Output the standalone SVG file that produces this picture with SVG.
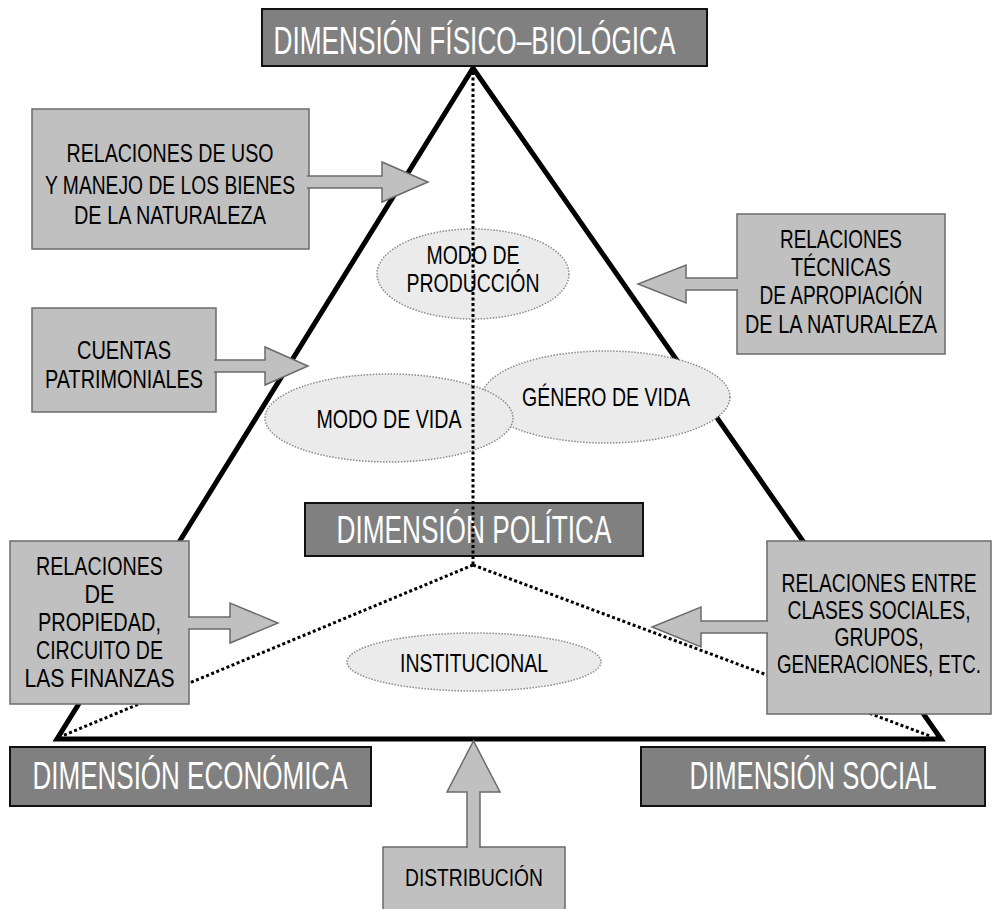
<svg xmlns="http://www.w3.org/2000/svg" width="993" height="909" viewBox="0 0 993 909">
<style>
.t{font-family:"Liberation Sans",Arial,sans-serif;text-anchor:middle;fill:#000;font-size:26px}
.dt{font-family:"Liberation Sans",Arial,sans-serif;text-anchor:middle;fill:#fff;font-size:38px}
.box{fill:#c0c0c0;stroke:#6b6b6b;stroke-width:1.5}
.dark{fill:#808080;stroke:#111;stroke-width:2}
.ell{fill:#ebebeb;stroke:#8a8a8a;stroke-width:1.5;stroke-dasharray:1.5 1.5}
.frame{fill:none;stroke:#000;stroke-width:5;stroke-linejoin:miter}
.dot{fill:none;stroke:#000;stroke-width:3;stroke-dasharray:3 2.5}
.arr{fill:#c0c0c0;stroke:#6b6b6b;stroke-width:1.5;stroke-linejoin:miter}
</style>
<rect width="993" height="909" fill="#fff"/>
<g id="pyramid"><polygon class="frame" points="473,68 57,739 941,739"/></g>

<g id="modo-produccion">
<ellipse class="ell" cx="473" cy="274" rx="96" ry="45"/>
<text class="t" x="473" y="264" textLength="93" lengthAdjust="spacingAndGlyphs">MODO DE</text>
<text class="t" x="473" y="292" textLength="133" lengthAdjust="spacingAndGlyphs">PRODUCCIÓN</text>
</g>
<g id="genero-vida">
<ellipse class="ell" cx="606" cy="397" rx="124" ry="46"/>
<text class="t" x="606" y="406" textLength="168" lengthAdjust="spacingAndGlyphs">GÉNERO DE VIDA</text>
</g>
<g id="modo-vida">
<ellipse class="ell" cx="389" cy="418" rx="124" ry="44"/>
<text class="t" x="389" y="428" textLength="145" lengthAdjust="spacingAndGlyphs">MODO DE VIDA</text>
</g>
<g id="institucional">
<ellipse class="ell" cx="474" cy="662" rx="127" ry="29"/>
<text class="t" x="474" y="672" textLength="148" lengthAdjust="spacingAndGlyphs">INSTITUCIONAL</text>
</g>

<g id="dim-politica">
<rect class="dark" x="305" y="503" width="338" height="53"/>
<text class="dt" x="474" y="543" textLength="275" lengthAdjust="spacingAndGlyphs">DIMENSIÓN POLÍTICA</text>
</g>

<g id="connectors">
<polyline class="dot" points="473,72 473,565"/>
<polyline class="dot" points="473,565 62,736"/>
<polyline class="dot" points="473,565 930,736"/>
</g>

<g id="uso-manejo">
<rect class="box" x="32" y="109" width="277" height="140"/>
<text class="t" x="170" y="162" textLength="207" lengthAdjust="spacingAndGlyphs">RELACIONES DE USO</text>
<text class="t" x="170" y="194" textLength="250" lengthAdjust="spacingAndGlyphs">Y MANEJO DE LOS BIENES</text>
<text class="t" x="170" y="224" textLength="192" lengthAdjust="spacingAndGlyphs">DE LA NATURALEZA</text>
</g>
<g id="tecnicas">
<rect class="box" x="737" y="214" width="208" height="140"/>
<text class="t" x="841" y="248" textLength="122" lengthAdjust="spacingAndGlyphs">RELACIONES</text>
<text class="t" x="841" y="276" textLength="100" lengthAdjust="spacingAndGlyphs">TÉCNICAS</text>
<text class="t" x="841" y="304" textLength="163" lengthAdjust="spacingAndGlyphs">DE APROPIACIÓN</text>
<text class="t" x="841" y="333" textLength="192" lengthAdjust="spacingAndGlyphs">DE LA NATURALEZA</text>
</g>
<g id="cuentas">
<rect class="box" x="32" y="308" width="184" height="104"/>
<text class="t" x="124" y="359" textLength="94" lengthAdjust="spacingAndGlyphs">CUENTAS</text>
<text class="t" x="124" y="388" textLength="158" lengthAdjust="spacingAndGlyphs">PATRIMONIALES</text>
</g>
<g id="propiedad">
<rect class="box" x="10" y="541" width="179" height="163"/>
<text class="t" x="99.5" y="575" textLength="127" lengthAdjust="spacingAndGlyphs">RELACIONES</text>
<text class="t" x="99.5" y="603" textLength="30" lengthAdjust="spacingAndGlyphs">DE</text>
<text class="t" x="99.5" y="631" textLength="123" lengthAdjust="spacingAndGlyphs">PROPIEDAD,</text>
<text class="t" x="99.5" y="659" textLength="127" lengthAdjust="spacingAndGlyphs">CIRCUITO DE</text>
<text class="t" x="99.5" y="687" textLength="150" lengthAdjust="spacingAndGlyphs">LAS FINANZAS</text>
</g>
<g id="clases-sociales">
<rect class="box" x="767" y="541" width="224" height="173"/>
<text class="t" x="879" y="592" textLength="195" lengthAdjust="spacingAndGlyphs">RELACIONES ENTRE</text>
<text class="t" x="879" y="619" textLength="183" lengthAdjust="spacingAndGlyphs">CLASES SOCIALES,</text>
<text class="t" x="879" y="646" textLength="89" lengthAdjust="spacingAndGlyphs">GRUPOS,</text>
<text class="t" x="879" y="673" textLength="204" lengthAdjust="spacingAndGlyphs">GENERACIONES, ETC.</text>
</g>
<g id="distribucion">
<rect class="box" x="383" y="847" width="182" height="80"/>
<text class="t" x="474" y="886" style="font-size:24px" textLength="138" lengthAdjust="spacingAndGlyphs">DISTRIBUCIÓN</text>
</g>

<g id="arrows">
<path class="arr" d="M307,176 H382 V162 L428,182 L382,202 V188 H307"/>
<path class="arr" d="M214,360 H265 V347 L308,366 L265,385 V372 H214"/>
<path class="arr" d="M188,617 H230 V603 L278,623 L230,643 V629 H188"/>
<path class="arr" d="M738,278 H686 V265 L638,284 L686,303 V290 H738"/>
<path class="arr" d="M768,621 H701 V607 L652,627 L701,647 V633 H768"/>
<path class="arr" d="M467,848 V792 H447 L473.5,741 L500,792 H480 V848"/>
</g>

<g id="dim-fisico">
<rect class="dark" x="262" y="9" width="445" height="57"/>
<text class="dt" x="474.5" y="54" textLength="402" lengthAdjust="spacingAndGlyphs">DIMENSIÓN FÍSICO–BIOLÓGICA</text>
</g>
<g id="dim-economica">
<rect class="dark" x="10" y="747" width="361" height="59"/>
<text class="dt" x="190" y="789" textLength="315" lengthAdjust="spacingAndGlyphs">DIMENSIÓN ECONÓMICA</text>
</g>
<g id="dim-social">
<rect class="dark" x="641" y="747" width="344" height="59"/>
<text class="dt" x="813" y="789" textLength="247" lengthAdjust="spacingAndGlyphs">DIMENSIÓN SOCIAL</text>
</g>
</svg>
